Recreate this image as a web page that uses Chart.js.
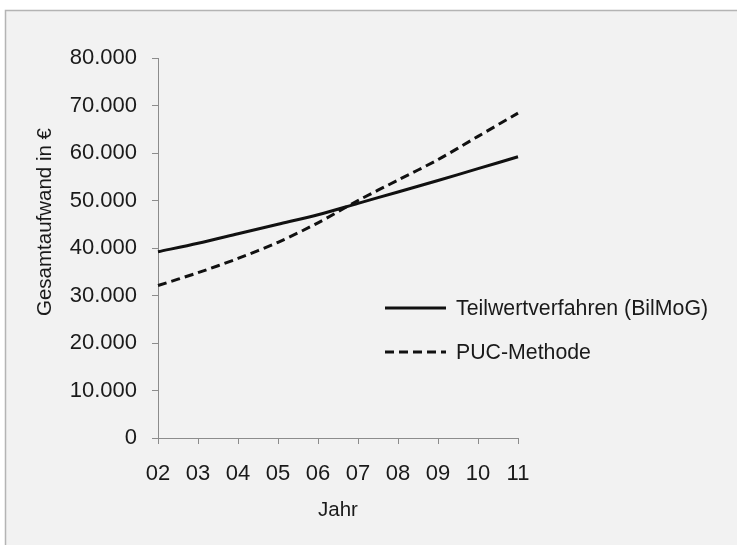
<!DOCTYPE html>
<html>
<head>
<meta charset="utf-8">
<script src="https://cdn.jsdelivr.net/npm/chart.js@4/dist/chart.umd.min.js"></script>
<style>
  html, body { margin: 0; padding: 0; background: #ffffff; }
  #wrap { width: 737px; height: 545px; position: relative; }
</style>
</head>
<body>
<div id="wrap"><canvas id="c" width="737" height="545"></canvas></div>
<script>
// Jahre (x-Achse)
const years = ['02', '03', '04', '05', '06', '07', '08', '09', '10', '11'];
// Gesamtaufwand in Euro je Verfahren
const teilwertValues = [39200, 41000, 43000, 45000, 47000, 49400, 51800, 54200, 56700, 59200];
const pucValues      = [32100, 34800, 37800, 41200, 45300, 50000, 54300, 58600, 63500, 68400];
// Beschriftungen der y-Achse (deutsches Zahlenformat)
const yTickValues = [0, 10000, 20000, 30000, 40000, 50000, 60000, 70000, 80000];
const yTickLabels = ['0', '10.000', '20.000', '30.000', '40.000', '50.000', '60.000', '70.000', '80.000'];
const seriesNames = ['Teilwertverfahren (BilMoG)', 'PUC-Methode'];
const yTitle = 'Gesamtaufwand in €';

const FONT = '"Liberation Sans", Arial, sans-serif';
const TEXT = '#1a1a1a';
const AXIS = '#8c8c8c';

// Hintergrund mit Rahmen
const frame = {
  id: 'frame',
  beforeDraw(chart) {
    const ctx = chart.ctx;
    ctx.save();
    ctx.fillStyle = '#ffffff';
    ctx.fillRect(0, 0, chart.width, chart.height);
    ctx.fillStyle = '#f2f2f2';
    ctx.fillRect(5, 10, chart.width - 5, chart.height - 10);
    ctx.strokeStyle = '#b4b4b4';
    ctx.lineWidth = 1.5;
    ctx.beginPath();
    ctx.moveTo(5.5, chart.height);
    ctx.lineTo(5.5, 10.5);
    ctx.lineTo(chart.width, 10.5);
    ctx.stroke();
    ctx.restore();
  }
};

// Titel der y-Achse, gedreht
const yAxisTitle = {
  id: 'yAxisTitle',
  afterDraw(chart) {
    const ctx = chart.ctx;
    ctx.save();
    ctx.translate(45, 222);
    ctx.rotate(-Math.PI / 2);
    ctx.fillStyle = TEXT;
    ctx.font = '20.5px ' + FONT;
    ctx.textAlign = 'center';
    ctx.textBaseline = 'middle';
    ctx.fillText(yTitle, 0, 0);
    ctx.restore();
  }
};

// Legende innerhalb des Diagramms
const innerLegend = {
  id: 'innerLegend',
  afterDraw(chart) {
    const ctx = chart.ctx;
    const x0 = 385, x1 = 446, tx = 456;
    const rows = [308, 352];
    ctx.save();
    chart.data.datasets.forEach((ds, i) => {
      const y = rows[i];
      ctx.strokeStyle = ds.borderColor;
      ctx.lineWidth = ds.borderWidth;
      ctx.setLineDash(ds.borderDash || []);
      ctx.beginPath();
      ctx.moveTo(x0, y);
      ctx.lineTo(x1, y);
      ctx.stroke();
      ctx.setLineDash([]);
      ctx.fillStyle = TEXT;
      ctx.font = '21.3px ' + FONT;
      ctx.textBaseline = 'middle';
      ctx.textAlign = 'left';
      ctx.fillText(ds.label, tx, y + 1);
    });
    ctx.restore();
  }
};

new Chart(document.getElementById('c'), {
  type: 'line',
  data: {
    labels: years,
    datasets: [
      {
        label: seriesNames[0],
        data: teilwertValues,
        borderColor: '#111111',
        borderWidth: 3,
        pointRadius: 0,
        tension: 0.3,
        fill: false
      },
      {
        label: seriesNames[1],
        data: pucValues,
        borderColor: '#111111',
        borderWidth: 3,
        borderDash: [9, 5],
        pointRadius: 0,
        tension: 0.3,
        fill: false
      }
    ]
  },
  options: {
    responsive: false,
    animation: false,
    layout: { padding: { left: 33, right: 219, top: 58, bottom: 0 } },
    plugins: {
      legend: { display: false },
      tooltip: { enabled: false }
    },
    scales: {
      x: {
        offset: false,
        grid: { display: true, drawOnChartArea: false, drawTicks: true, tickLength: 6, color: AXIS },
        border: { display: true, color: AXIS, width: 1 },
        ticks: { color: TEXT, font: { family: FONT, size: 22 }, padding: 17, maxRotation: 0, autoSkip: false },
        title: { display: true, text: 'Jahr', color: TEXT, font: { family: FONT, size: 20.5 }, padding: { top: 0, bottom: 22 } },
        afterFit(scale) { scale.height = 545 - 438; }
      },
      y: {
        min: 0,
        max: 80000,
        afterBuildTicks(scale) { scale.ticks = yTickValues.map(v => ({ value: v })); },
        grid: { display: true, drawOnChartArea: false, drawTicks: true, tickLength: 6, color: AXIS },
        border: { display: true, color: AXIS, width: 1 },
        ticks: {
          color: TEXT,
          font: { family: FONT, size: 22 },
          padding: 15,
          callback(value) { const i = yTickValues.indexOf(value); return i >= 0 ? yTickLabels[i] : ''; }
        },
        title: { display: false },
        afterFit(scale) { scale.width = 158 - 33; }
      }
    }
  },
  plugins: [frame, yAxisTitle, innerLegend]
});
</script>
</body>
</html>
